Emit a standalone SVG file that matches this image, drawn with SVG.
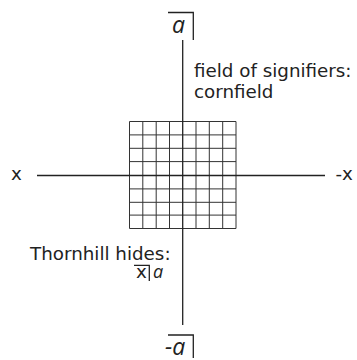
<svg xmlns="http://www.w3.org/2000/svg" width="357" height="360" viewBox="0 0 357 360">
<style>
.t{font-family:"DejaVu Sans",Verdana,sans-serif;font-size:18.3px;fill:#222}
.it{font-family:"Open Sans","Noto Sans",sans-serif;font-style:italic;fill:#222}
.ln{stroke:#222;stroke-width:1.3;fill:none}
.gr{stroke:#333;stroke-width:1;fill:none}
</style>
<rect width="357" height="360" fill="#fff"/>
<g id="grid">
<path class="gr" d="M129.5 121.5V228.5M142.8 121.5V228.5M156.2 121.5V228.5M169.5 121.5V228.5M196 121.5V228.5M209.3 121.5V228.5M222.7 121.5V228.5M236 121.5V228.5M129.5 121.5H236M129.5 134.9H236M129.5 148.3H236M129.5 161.6H236M129.5 188.9H236M129.5 202.3H236M129.5 215.1H236M129.5 228.5H236"/>
</g>
<g id="connectors">
<line class="ln" x1="182.7" y1="40" x2="182.7" y2="325"/>
<line class="ln" x1="37" y1="175.5" x2="325" y2="175.5"/>
</g>
<g id="top-a">
<path class="ln" d="M168 12.5H193.3V40"/>
<text class="it" x="172" y="33" font-size="23">a</text>
</g>
<g id="bottom-a">
<path class="ln" d="M168 335H193.3V358"/>
<text class="it" x="165" y="354.5" font-size="23">-a</text>
</g>
<g id="x-left"><text class="t" x="11" y="179.5">x</text></g>
<g id="x-right"><text class="t" x="335.5" y="179.5">-x</text></g>
<g id="field">
<text class="t" x="194" y="77">field of signifiers:</text>
<text class="t" x="194" y="98">cornfield</text>
</g>
<g id="thornhill">
<text class="t" x="30" y="259.5">Thornhill hides:</text>
<path class="ln" d="M134 265.3H149.3V281"/>
<text class="t" x="136" y="278">x</text>
<text class="it" x="153" y="278" font-size="18">a</text>
</g>
</svg>
